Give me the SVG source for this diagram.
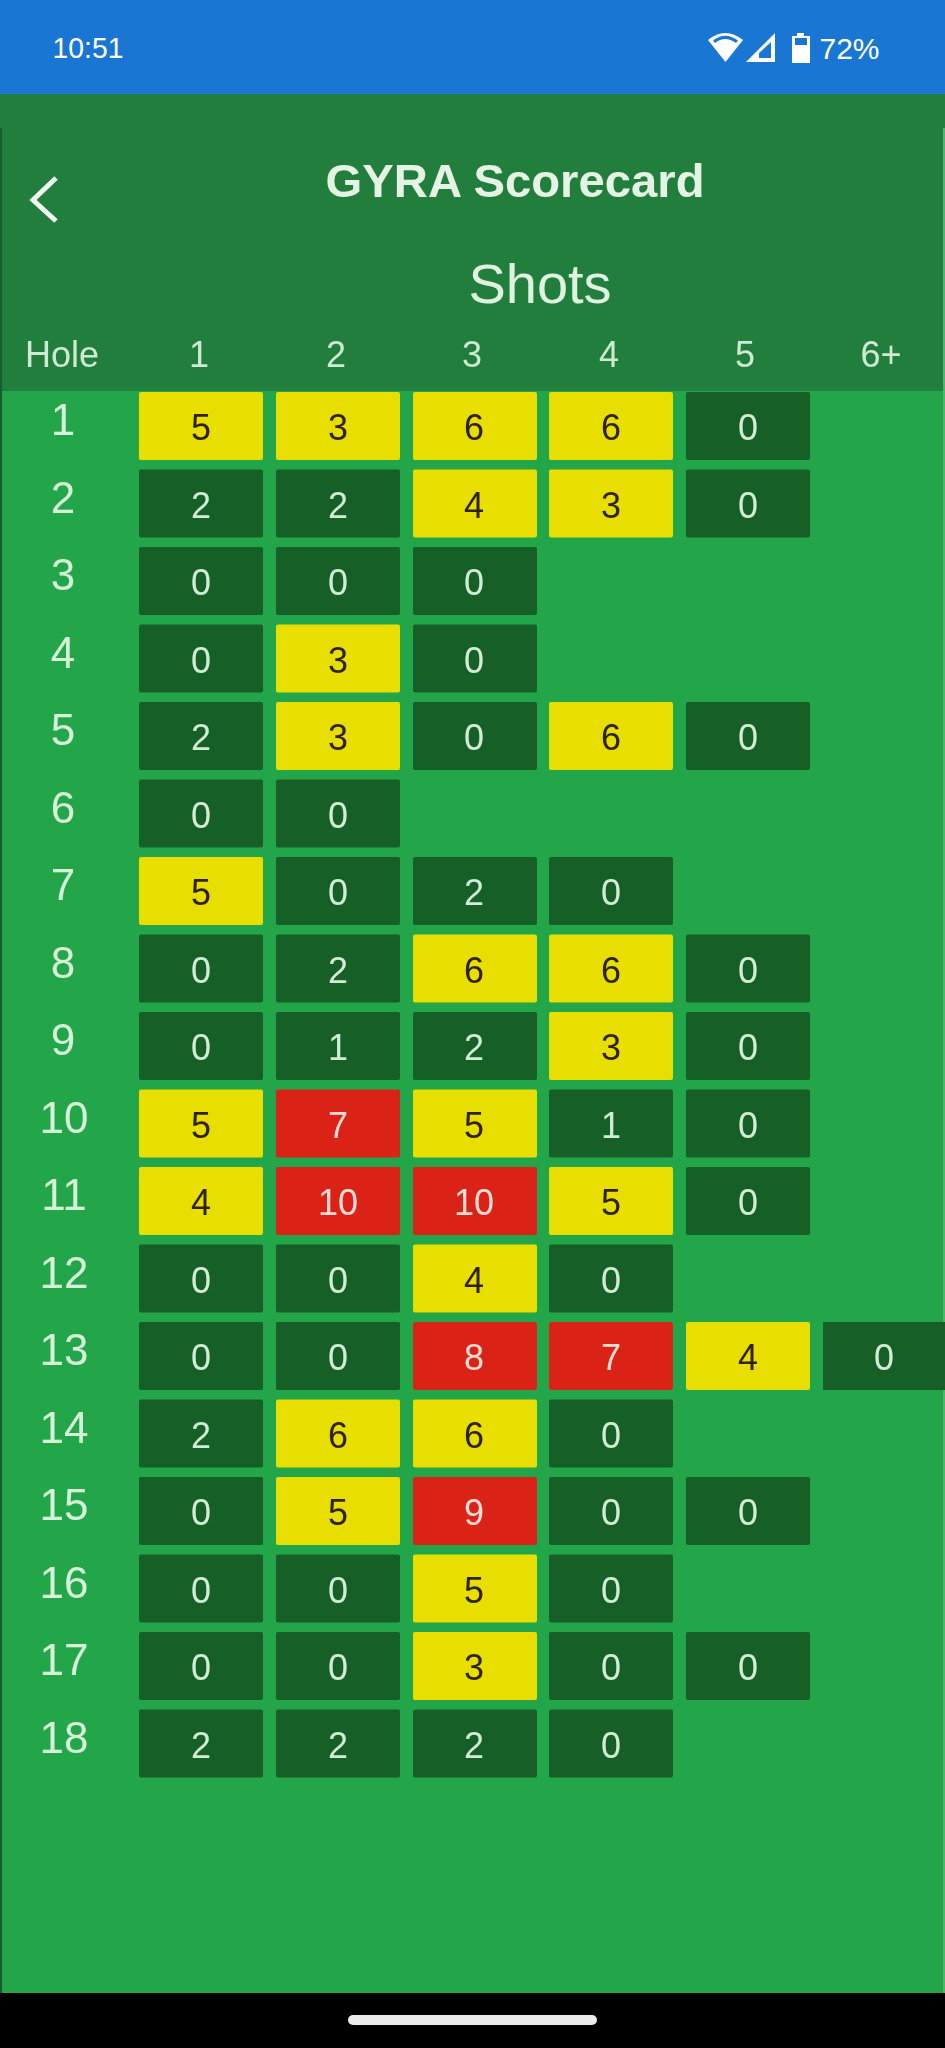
<svg xmlns="http://www.w3.org/2000/svg" width="945" height="2048" viewBox="0 0 945 2048">
<style>
text{font-family:"Liberation Sans",Arial,sans-serif;text-anchor:middle}
.s{fill:#fff;font-size:30px}
.h{fill:#cfe9d2;font-size:36px}
.l{fill:#d5f2d8;font-size:44px}
.d{fill:#d3ecd5;font-size:36px}
.k{fill:#2e2400;font-size:36px}
.r{fill:#fbdcd4;font-size:36px}
</style>
<defs>
<filter id="soft" filterUnits="userSpaceOnUse" x="0" y="0" width="945" height="2048"><feGaussianBlur stdDeviation="0.700"/></filter>
<rect id="dk" width="124" height="68" rx="2" fill="#135f26"/>
<rect id="yl" width="124" height="68" rx="2" fill="#e8df00"/>
<rect id="rd" width="124" height="68" rx="2" fill="#da2418"/>
<rect id="dk6" width="122" height="68" fill="#135f26"/>
</defs>
<rect id="bg" width="945" height="2048" fill="#23a64a"/>
<g id="status-bar">
<rect width="945" height="94" fill="#1976d3"/>
<text class="s" x="88" y="58" textLength="71" lengthAdjust="spacingAndGlyphs">10:51</text>
<path d="M708 40Q725 26 743 40L725.500 62Z" fill="#fff"/>
<path d="M713 40.500Q725 31 738 40.500L736 43Q725 35 715 43Z" fill="#1976d3"/>
<path d="M746 62L775 33V62ZM759 58H771V42L759 53Z" fill="#fff" fill-rule="evenodd"/>
<path d="M797 33H804V36H810V63H792V36H797ZM795 38V45H807V38Z" fill="#fff" fill-rule="evenodd"/>
<text class="s" x="849.500" y="58.500" textLength="60" lengthAdjust="spacingAndGlyphs">72%</text>
</g>
<g id="header" filter="url(#soft)">
<rect y="94" width="945" height="297" fill="#207e3d"/>
<path d="M56 178L33 200L56 221" fill="none" stroke="#f2f8f2" stroke-width="5"/>
<text x="515" y="197" fill="#e4f3e4" font-size="47" font-weight="700" textLength="379" lengthAdjust="spacingAndGlyphs">GYRA Scorecard</text>
<text x="540" y="303" fill="#dff2e0" font-size="56">Shots</text>
<text class="h" x="62" y="367">Hole</text>
<text class="h" x="199" y="367">1</text>
<text class="h" x="336" y="367">2</text>
<text class="h" x="472" y="367">3</text>
<text class="h" x="609" y="367">4</text>
<text class="h" x="745" y="367">5</text>
<text class="h" x="881" y="367">6+</text>
</g>
<g id="edges">
<rect x="0" y="128" width="2" height="1865" fill="#1b5a30"/>
<rect x="943" y="128" width="2" height="1865" fill="#4fb56c"/>
</g>
<g id="grid" filter="url(#soft)">
<g id="row1" transform="translate(0,392)"><text class="l" x="63" y="43">1</text>
<g id="r1c1"><use href="#yl" x="139"/><text class="k" x="201" y="48">5</text></g>
<g id="r1c2"><use href="#yl" x="276"/><text class="k" x="338" y="48">3</text></g>
<g id="r1c3"><use href="#yl" x="413"/><text class="k" x="474" y="48">6</text></g>
<g id="r1c4"><use href="#yl" x="549"/><text class="k" x="611" y="48">6</text></g>
<g id="r1c5"><use href="#dk" x="686"/><text class="d" x="748" y="48">0</text></g></g>
<g id="row2" transform="translate(0,469.500)"><text class="l" x="63" y="43">2</text>
<g id="r2c1"><use href="#dk" x="139"/><text class="d" x="201" y="48">2</text></g>
<g id="r2c2"><use href="#dk" x="276"/><text class="d" x="338" y="48">2</text></g>
<g id="r2c3"><use href="#yl" x="413"/><text class="k" x="474" y="48">4</text></g>
<g id="r2c4"><use href="#yl" x="549"/><text class="k" x="611" y="48">3</text></g>
<g id="r2c5"><use href="#dk" x="686"/><text class="d" x="748" y="48">0</text></g></g>
<g id="row3" transform="translate(0,547)"><text class="l" x="63" y="43">3</text>
<g id="r3c1"><use href="#dk" x="139"/><text class="d" x="201" y="48">0</text></g>
<g id="r3c2"><use href="#dk" x="276"/><text class="d" x="338" y="48">0</text></g>
<g id="r3c3"><use href="#dk" x="413"/><text class="d" x="474" y="48">0</text></g></g>
<g id="row4" transform="translate(0,624.500)"><text class="l" x="63" y="43">4</text>
<g id="r4c1"><use href="#dk" x="139"/><text class="d" x="201" y="48">0</text></g>
<g id="r4c2"><use href="#yl" x="276"/><text class="k" x="338" y="48">3</text></g>
<g id="r4c3"><use href="#dk" x="413"/><text class="d" x="474" y="48">0</text></g></g>
<g id="row5" transform="translate(0,702)"><text class="l" x="63" y="43">5</text>
<g id="r5c1"><use href="#dk" x="139"/><text class="d" x="201" y="48">2</text></g>
<g id="r5c2"><use href="#yl" x="276"/><text class="k" x="338" y="48">3</text></g>
<g id="r5c3"><use href="#dk" x="413"/><text class="d" x="474" y="48">0</text></g>
<g id="r5c4"><use href="#yl" x="549"/><text class="k" x="611" y="48">6</text></g>
<g id="r5c5"><use href="#dk" x="686"/><text class="d" x="748" y="48">0</text></g></g>
<g id="row6" transform="translate(0,779.500)"><text class="l" x="63" y="43">6</text>
<g id="r6c1"><use href="#dk" x="139"/><text class="d" x="201" y="48">0</text></g>
<g id="r6c2"><use href="#dk" x="276"/><text class="d" x="338" y="48">0</text></g></g>
<g id="row7" transform="translate(0,857)"><text class="l" x="63" y="43">7</text>
<g id="r7c1"><use href="#yl" x="139"/><text class="k" x="201" y="48">5</text></g>
<g id="r7c2"><use href="#dk" x="276"/><text class="d" x="338" y="48">0</text></g>
<g id="r7c3"><use href="#dk" x="413"/><text class="d" x="474" y="48">2</text></g>
<g id="r7c4"><use href="#dk" x="549"/><text class="d" x="611" y="48">0</text></g></g>
<g id="row8" transform="translate(0,934.500)"><text class="l" x="63" y="43">8</text>
<g id="r8c1"><use href="#dk" x="139"/><text class="d" x="201" y="48">0</text></g>
<g id="r8c2"><use href="#dk" x="276"/><text class="d" x="338" y="48">2</text></g>
<g id="r8c3"><use href="#yl" x="413"/><text class="k" x="474" y="48">6</text></g>
<g id="r8c4"><use href="#yl" x="549"/><text class="k" x="611" y="48">6</text></g>
<g id="r8c5"><use href="#dk" x="686"/><text class="d" x="748" y="48">0</text></g></g>
<g id="row9" transform="translate(0,1012)"><text class="l" x="63" y="43">9</text>
<g id="r9c1"><use href="#dk" x="139"/><text class="d" x="201" y="48">0</text></g>
<g id="r9c2"><use href="#dk" x="276"/><text class="d" x="338" y="48">1</text></g>
<g id="r9c3"><use href="#dk" x="413"/><text class="d" x="474" y="48">2</text></g>
<g id="r9c4"><use href="#yl" x="549"/><text class="k" x="611" y="48">3</text></g>
<g id="r9c5"><use href="#dk" x="686"/><text class="d" x="748" y="48">0</text></g></g>
<g id="row10" transform="translate(0,1089.500)"><text class="l" x="64" y="43">10</text>
<g id="r10c1"><use href="#yl" x="139"/><text class="k" x="201" y="48">5</text></g>
<g id="r10c2"><use href="#rd" x="276"/><text class="r" x="338" y="48">7</text></g>
<g id="r10c3"><use href="#yl" x="413"/><text class="k" x="474" y="48">5</text></g>
<g id="r10c4"><use href="#dk" x="549"/><text class="d" x="611" y="48">1</text></g>
<g id="r10c5"><use href="#dk" x="686"/><text class="d" x="748" y="48">0</text></g></g>
<g id="row11" transform="translate(0,1167)"><text class="l" x="64" y="43">11</text>
<g id="r11c1"><use href="#yl" x="139"/><text class="k" x="201" y="48">4</text></g>
<g id="r11c2"><use href="#rd" x="276"/><text class="r" x="338" y="48">10</text></g>
<g id="r11c3"><use href="#rd" x="413"/><text class="r" x="474" y="48">10</text></g>
<g id="r11c4"><use href="#yl" x="549"/><text class="k" x="611" y="48">5</text></g>
<g id="r11c5"><use href="#dk" x="686"/><text class="d" x="748" y="48">0</text></g></g>
<g id="row12" transform="translate(0,1244.500)"><text class="l" x="64" y="43">12</text>
<g id="r12c1"><use href="#dk" x="139"/><text class="d" x="201" y="48">0</text></g>
<g id="r12c2"><use href="#dk" x="276"/><text class="d" x="338" y="48">0</text></g>
<g id="r12c3"><use href="#yl" x="413"/><text class="k" x="474" y="48">4</text></g>
<g id="r12c4"><use href="#dk" x="549"/><text class="d" x="611" y="48">0</text></g></g>
<g id="row13" transform="translate(0,1322)"><text class="l" x="64" y="43">13</text>
<g id="r13c1"><use href="#dk" x="139"/><text class="d" x="201" y="48">0</text></g>
<g id="r13c2"><use href="#dk" x="276"/><text class="d" x="338" y="48">0</text></g>
<g id="r13c3"><use href="#rd" x="413"/><text class="r" x="474" y="48">8</text></g>
<g id="r13c4"><use href="#rd" x="549"/><text class="r" x="611" y="48">7</text></g>
<g id="r13c5"><use href="#yl" x="686"/><text class="k" x="748" y="48">4</text></g>
<g id="r13c6"><use href="#dk6" x="823"/><text class="d" x="884" y="48">0</text></g></g>
<g id="row14" transform="translate(0,1399.500)"><text class="l" x="64" y="43">14</text>
<g id="r14c1"><use href="#dk" x="139"/><text class="d" x="201" y="48">2</text></g>
<g id="r14c2"><use href="#yl" x="276"/><text class="k" x="338" y="48">6</text></g>
<g id="r14c3"><use href="#yl" x="413"/><text class="k" x="474" y="48">6</text></g>
<g id="r14c4"><use href="#dk" x="549"/><text class="d" x="611" y="48">0</text></g></g>
<g id="row15" transform="translate(0,1477)"><text class="l" x="64" y="43">15</text>
<g id="r15c1"><use href="#dk" x="139"/><text class="d" x="201" y="48">0</text></g>
<g id="r15c2"><use href="#yl" x="276"/><text class="k" x="338" y="48">5</text></g>
<g id="r15c3"><use href="#rd" x="413"/><text class="r" x="474" y="48">9</text></g>
<g id="r15c4"><use href="#dk" x="549"/><text class="d" x="611" y="48">0</text></g>
<g id="r15c5"><use href="#dk" x="686"/><text class="d" x="748" y="48">0</text></g></g>
<g id="row16" transform="translate(0,1554.500)"><text class="l" x="64" y="43">16</text>
<g id="r16c1"><use href="#dk" x="139"/><text class="d" x="201" y="48">0</text></g>
<g id="r16c2"><use href="#dk" x="276"/><text class="d" x="338" y="48">0</text></g>
<g id="r16c3"><use href="#yl" x="413"/><text class="k" x="474" y="48">5</text></g>
<g id="r16c4"><use href="#dk" x="549"/><text class="d" x="611" y="48">0</text></g></g>
<g id="row17" transform="translate(0,1632)"><text class="l" x="64" y="43">17</text>
<g id="r17c1"><use href="#dk" x="139"/><text class="d" x="201" y="48">0</text></g>
<g id="r17c2"><use href="#dk" x="276"/><text class="d" x="338" y="48">0</text></g>
<g id="r17c3"><use href="#yl" x="413"/><text class="k" x="474" y="48">3</text></g>
<g id="r17c4"><use href="#dk" x="549"/><text class="d" x="611" y="48">0</text></g>
<g id="r17c5"><use href="#dk" x="686"/><text class="d" x="748" y="48">0</text></g></g>
<g id="row18" transform="translate(0,1709.500)"><text class="l" x="64" y="43">18</text>
<g id="r18c1"><use href="#dk" x="139"/><text class="d" x="201" y="48">2</text></g>
<g id="r18c2"><use href="#dk" x="276"/><text class="d" x="338" y="48">2</text></g>
<g id="r18c3"><use href="#dk" x="413"/><text class="d" x="474" y="48">2</text></g>
<g id="r18c4"><use href="#dk" x="549"/><text class="d" x="611" y="48">0</text></g></g>
</g>
<g id="nav-bar">
<rect y="1993" width="945" height="55" fill="#000"/>
<rect x="348" y="2015" width="249" height="10" rx="5" fill="#ececec"/>
</g>
<g id="connectors"/>
</svg>
